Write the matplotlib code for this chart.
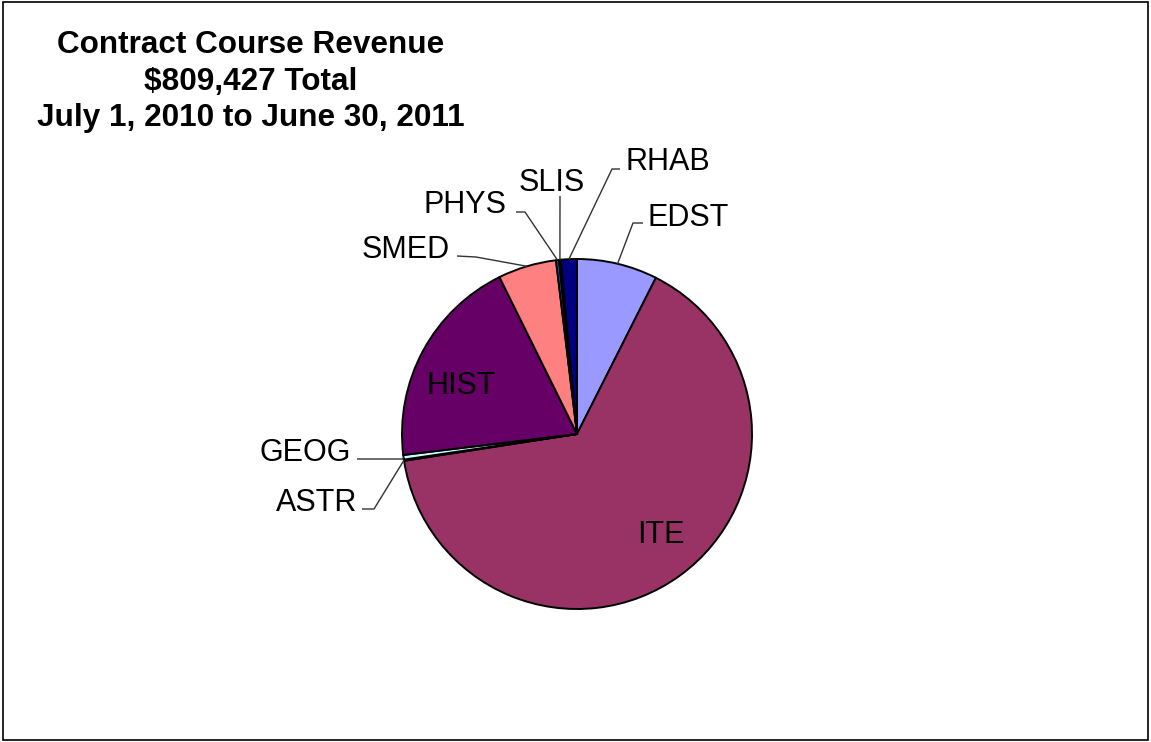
import numpy as np
import matplotlib
matplotlib.use('Agg')
import matplotlib.pyplot as plt
from matplotlib.patches import Rectangle

# Data (dollars)
departments = ['EDST', 'ITE', 'ASTR', 'GEOG', 'HIST', 'SMED', 'PHYS', 'SLIS', 'RHAB']
revenue = [60258, 527000, 899, 3400, 158737, 43619, 2248, 1349, 11917]
colors = ['#9999FF', '#993366', '#FFFFCC', '#CCFFFF', '#660066',
          '#FF8080', '#0066CC', '#CCCCFF', '#000080']

title_lines = ['Contract Course Revenue', '$809,427 Total', 'July 1, 2010 to June 30, 2011']

# Layout in pixels (origin top-left)
W, H = 1151, 742
CX, CY, R = 577, 434, 175

# outside labels: (elbow point, line end, text anchor, ha)
outside = {
    'RHAB': ((612, 169), (620, 169), (626, 170), 'left'),
    'EDST': ((633, 223), (643, 223), (648, 226), 'left'),
    'SLIS': ((560, 196), (560, 196), (552, 191), 'center'),
    'PHYS': ((525, 212), (516, 212), (507, 213), 'right'),
    'SMED': ((476, 257), (457, 256), (450, 258), 'right'),
    'GEOG': ((403, 459), (357, 459), (351, 461), 'right'),
    'ASTR': ((374, 509), (362, 509), (357, 511), 'right'),
}
inside = {'HIST': (461, 386), 'ITE': (661, 535)}

FONT = 'Liberation Sans'


def py(y):
    return H - y


def main():
    fig = plt.figure(figsize=(W / 100, H / 100), dpi=100)
    fig.patch.set_facecolor('white')
    ax = fig.add_axes([0, 0, 1, 1])

    wedges, _ = ax.pie(revenue, colors=colors, startangle=90, counterclock=False,
                       center=(CX, py(CY)), radius=R, frame=True,
                       wedgeprops=dict(edgecolor='black', linewidth=1.4))

    ax.set_xlim(0, W)
    ax.set_ylim(0, H)
    ax.set_aspect('equal')
    ax.set_axis_off()

    for w, name in zip(wedges, departments):
        mid = np.deg2rad((w.theta1 + w.theta2) / 2)
        sx = CX + R * np.cos(mid)
        sy = py(CY) + R * np.sin(mid)
        if name in outside:
            elbow, end, tpos, ha = outside[name]
            ax.plot([sx, elbow[0], end[0]], [sy, py(elbow[1]), py(end[1])],
                    color='#333333', lw=1.0, zorder=1, solid_capstyle='butt')
            ax.text(tpos[0], py(tpos[1]), name, ha=ha, va='baseline',
                    fontsize=22, family=FONT, color='black')
        elif name in inside:
            x, y = inside[name]
            ax.text(x, py(y), name, ha='center', va='center',
                    fontsize=22, family=FONT, color='black')

    # Title
    for line, base in zip(title_lines, [53, 90, 126]):
        ax.text(251, py(base), line, ha='center', va='baseline',
                fontsize=22.7, fontweight='bold', family=FONT, color='black')

    # chart border
    ax.add_patch(Rectangle((3, py(740)), 1145, 738, fill=False,
                           edgecolor='black', lw=1.2, clip_on=False))

    fig.savefig('out.png', dpi=100, facecolor='white')
    plt.close(fig)


if __name__ == '__main__':
    main()
